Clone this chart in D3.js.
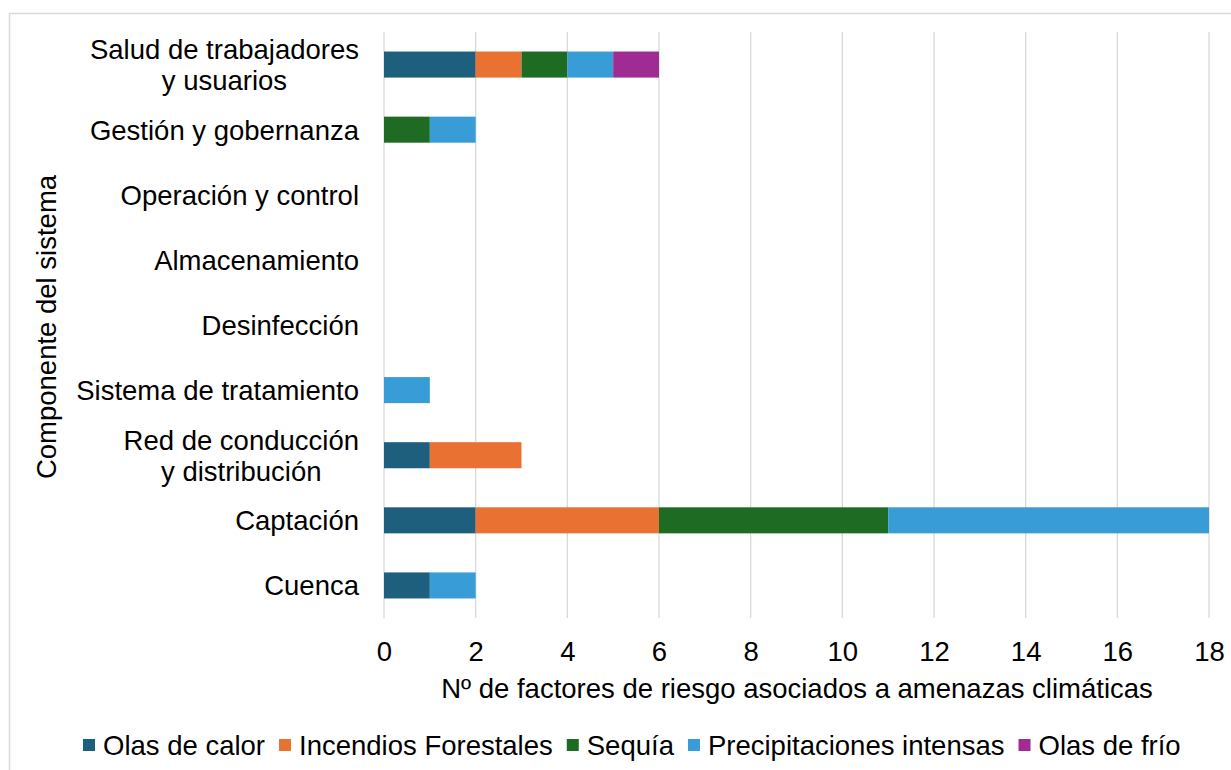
<!DOCTYPE html>
<html>
<head>
<meta charset="utf-8">
<script src="https://cdn.jsdelivr.net/npm/d3@7/dist/d3.min.js"></script>
<style>
  html, body { margin: 0; padding: 0; background: #fff; }
  svg text { font-family: "Liberation Sans", Arial, sans-serif; fill: #000; }
</style>
</head>
<body>
<svg id="chart" width="1231" height="770"></svg>
<script>
// Components of the water supply system (top to bottom)
const categories = [
  ["Salud de trabajadores", "y usuarios"],
  ["Gestión y gobernanza"],
  ["Operación y control"],
  ["Almacenamiento"],
  ["Desinfección"],
  ["Sistema de tratamiento"],
  ["Red de conducción", "y distribución"],
  ["Captación"],
  ["Cuenca"]
];

// Climate hazards (stack order)
const seriesNames = ["Olas de calor", "Incendios Forestales", "Sequía", "Precipitaciones intensas", "Olas de frío"];
const seriesColors = ["#1f5f7e", "#e97132", "#1e6b24", "#389cd6", "#a02b93"];

// Number of risk factors per component, per hazard
const olasCalor      = [2, 0, 0, 0, 0, 0, 1, 2, 1];
const incendios      = [1, 0, 0, 0, 0, 0, 2, 4, 0];
const sequia         = [1, 1, 0, 0, 0, 0, 0, 5, 0];
const precipitacion  = [1, 1, 0, 0, 0, 1, 0, 7, 1];
const olasFrio       = [1, 0, 0, 0, 0, 0, 0, 0, 0];

const xTicks = [0, 2, 4, 6, 8, 10, 12, 14, 16, 18];
const xTitle = "Nº de factores de riesgo asociados a amenazas climáticas";
const yTitle = "Componente del sistema";

const seriesValues = [olasCalor, incendios, sequia, precipitacion, olasFrio];
const rows = categories.map((c, i) => {
  const r = { key: c.join(" ") };
  seriesNames.forEach((s, j) => { r[s] = seriesValues[j][i]; });
  return r;
});

const FS = "27.5px";
const svg = d3.select("#chart");

// outer frame
svg.append("rect")
  .attr("x", 9.5).attr("y", 13.5).attr("width", 1300).attr("height", 900)
  .attr("fill", "none").attr("stroke", "#d9d9d9").attr("stroke-width", 1.5);

const plot = { left: 384, right: 1209, top: 32, bottom: 618 };

const x = d3.scaleLinear().domain([0, 18]).range([plot.left, plot.right]);
const y = d3.scaleBand()
  .domain(rows.map(r => r.key))
  .range([plot.top, plot.bottom])
  .paddingInner(0.6).paddingOuter(0.3);

// vertical gridlines
svg.append("g").selectAll("line").data(xTicks).join("line")
  .attr("x1", d => x(d)).attr("x2", d => x(d))
  .attr("y1", plot.top).attr("y2", plot.bottom)
  .attr("stroke", "#d9d9d9").attr("stroke-width", 1.3);

// stacked bars
const stack = d3.stack().keys(seriesNames)(rows);
svg.append("g").selectAll("g").data(stack).join("g")
  .attr("fill", (d, i) => seriesColors[i])
  .selectAll("rect").data(d => d.filter(p => p[1] - p[0] > 0)).join("rect")
  .attr("x", d => x(d[0]))
  .attr("width", d => x(d[1]) - x(d[0]))
  .attr("y", d => y(d.data.key))
  .attr("height", y.bandwidth());

// x axis tick labels
const xAxis = d3.axisBottom(x).tickValues(xTicks).tickSize(0).tickPadding(0);
const gx = svg.append("g").attr("transform", `translate(0,${plot.bottom})`).call(xAxis);
gx.select(".domain").remove();
gx.selectAll("text")
  .attr("y", 43).attr("dy", 0)
  .style("font-size", "27.5px")
  .style("font-family", "'Liberation Sans', Arial, sans-serif");

// category labels (right-aligned; two-line labels centred on each other)
const gy = svg.append("g");
rows.forEach((r, i) => {
  const lines = categories[i];
  const cy = y(r.key) + y.bandwidth() / 2;
  const lh = 31;
  const t = gy.append("text")
    .attr("text-anchor", "end")
    .style("font-size", FS);
  lines.forEach((ln, k) => {
    t.append("tspan")
      .attr("x", 359)
      .attr("y", cy + 10 + (k - (lines.length - 1) / 2) * lh)
      .text(ln);
  });
  if (lines.length > 1) {
    const tsp = t.selectAll("tspan").nodes();
    const w0 = tsp[0].getComputedTextLength();
    t.attr("text-anchor", "middle");
    tsp.forEach(n => n.setAttribute("x", 359 - w0 / 2));
  }
});

// axis titles
svg.append("text")
  .attr("x", 797).attr("y", 698)
  .attr("text-anchor", "middle")
  .style("font-size", FS)
  .text(xTitle);

svg.append("text")
  .attr("transform", "translate(56,327) rotate(-90)")
  .attr("text-anchor", "middle")
  .style("font-size", FS)
  .text(yTitle);

// legend
const legend = svg.append("g");
let lx = 83;
seriesNames.forEach((s, i) => {
  legend.append("rect")
    .attr("x", lx).attr("y", 739).attr("width", 12).attr("height", 12)
    .attr("fill", seriesColors[i]);
  const t = legend.append("text")
    .attr("x", lx + 20).attr("y", 755)
    .style("font-size", FS)
    .text(s);
  lx += 20 + t.node().getComputedTextLength() + 14;
});
</script>
</body>
</html>
